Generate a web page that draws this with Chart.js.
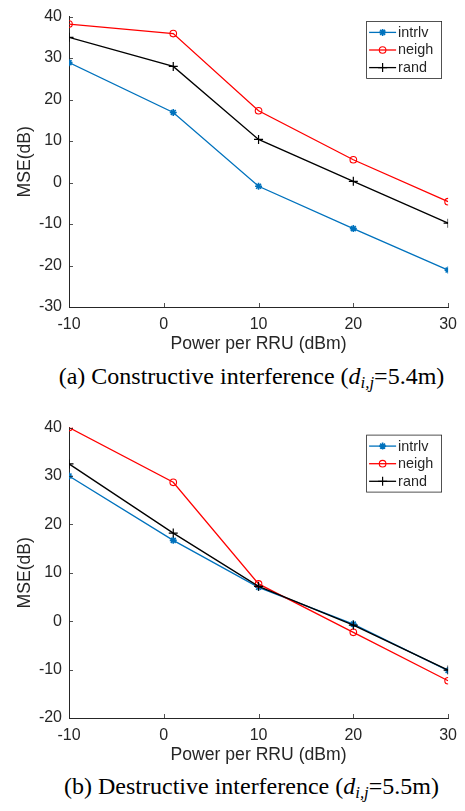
<!DOCTYPE html>
<html>
<head>
<meta charset="utf-8">
<script src="https://cdn.jsdelivr.net/npm/chart.js@4/dist/chart.umd.min.js"></script>
<style>
  html, body { margin: 0; padding: 0; background: #fff; overflow: hidden; }
  body { width: 465px; height: 811px; position: relative; }
  .box { position: absolute; left: 0; width: 465px; height: 360px; }
  .cap { position: absolute; left: 38px; width: 427px; text-align: center; white-space: nowrap;
         font-family: "Liberation Serif", "Times New Roman", serif; font-size: 24px; line-height: 24px; color: #000; }
  .cap sub { font-size: 70%; vertical-align: -4px; line-height: 0; }
</style>
</head>
<body>
<div class="box" style="top:0"><canvas id="chartA"></canvas></div>
<div class="cap" style="top:364px">(a) Constructive interference (<i>d</i><sub><i>i,j</i></sub>=5.4m)</div>
<div class="box" style="top:411px"><canvas id="chartB"></canvas></div>
<div class="cap" style="top:774px">(b) Destructive interference (<i>d</i><sub><i>i,j</i></sub>=5.5m)</div>
<script>
// x values: power per RRU (dBm)
const powerVals = [-10, 1, 10, 20, 30];
const seriesNames = ['intrlv', 'neigh', 'rand'];

// (a) constructive interference
const intrlvA = [28.9, 16.9, -0.9, -11.1, -21.1];
const neighA = [38.2, 35.9, 17.3, 5.5, -4.6];
const randA = [35.0, 28.0, 10.4, 0.3, -9.8];

// (b) destructive interference
const intrlvB = [30.0, 16.7, 7.0, -0.6, -10.2];
const neighB = [40.0, 28.7, 7.7, -2.3, -12.3];
const randB = [32.5, 18.2, 7.2, -0.8, -10.1];

const axisColor = '#262626';
const sansFont = '"Liberation Sans", Arial, sans-serif';

const styles = [
  { color: '#0072BD', pointStyle: 'star', radius: 3.5, pw: 1.6, order: 2 },
  { color: '#FF0000', pointStyle: 'circle', radius: 3.3, pw: 1.1, order: 1 },
  { color: '#000000', pointStyle: 'cross', radius: 4.5, pw: 1.2, order: 0 }
];

function toPoints(ys) {
  return ys.map((y, i) => ({ x: powerVals[i], y: y }));
}

// inward tick marks like MATLAB
const innerTicks = {
  id: 'innerTicks',
  afterDatasetsDraw(chart) {
    const ctx = chart.ctx;
    const { x, y } = chart.scales;
    const area = chart.chartArea;
    ctx.save();
    ctx.strokeStyle = axisColor;
    ctx.lineWidth = 0.8;
    ctx.beginPath();
    x.ticks.forEach(t => {
      const px = Math.round(x.getPixelForValue(t.value)) + 0.5;
      ctx.moveTo(px, area.bottom);
      ctx.lineTo(px, area.bottom - 4);
    });
    y.ticks.forEach(t => {
      const py = Math.round(y.getPixelForValue(t.value)) + 0.5;
      ctx.moveTo(area.left, py);
      ctx.lineTo(area.left + 4, py);
    });
    ctx.stroke();
    ctx.restore();
  }
};

// legend box inside the plot, top right
const boxLegend = {
  id: 'boxLegend',
  afterDraw(chart, args, opts) {
    const ctx = chart.ctx;
    const area = chart.chartArea;
    const right = area.right - 7;
    const left = right - 75;
    const top = area.top + opts.top;
    const rowH = 17.6;
    ctx.save();
    ctx.fillStyle = '#fff';
    ctx.fillRect(left, top, 75, 57);
    ctx.strokeStyle = axisColor;
    ctx.lineWidth = 0.8;
    ctx.strokeRect(left + 0.5, top + 0.5, 75, 57);
    chart.data.datasets.forEach((ds, i) => {
      const yy = top + 11.5 + i * rowH;
      ctx.strokeStyle = ds.borderColor;
      ctx.lineWidth = 1.3;
      ctx.beginPath();
      ctx.moveTo(left + 3, yy);
      ctx.lineTo(left + 30, yy);
      ctx.stroke();
      ctx.fillStyle = ds.pointBackgroundColor;
      ctx.strokeStyle = ds.pointBorderColor;
      ctx.lineWidth = ds.pointBorderWidth;
      Chart.helpers.drawPoint(ctx, {
        pointStyle: ds.pointStyle,
        radius: ds.pointRadius,
        borderWidth: ds.pointBorderWidth,
        rotation: 0
      }, left + 16.5, yy);
      ctx.fillStyle = axisColor;
      ctx.font = '14.4px ' + sansFont;
      ctx.textBaseline = 'middle';
      ctx.textAlign = 'left';
      ctx.fillText(ds.label, left + 32, yy + 0.5);
    });
    ctx.restore();
  }
};

function makeChart(id, seriesList, yMin, yMax, legendTop) {
  const datasets = seriesList.map((ys, i) => {
    const s = styles[i];
    return {
      label: seriesNames[i],
      data: toPoints(ys),
      borderColor: s.color,
      backgroundColor: s.pointStyle === 'star' ? s.color : 'rgba(0,0,0,0)',
      pointBorderColor: s.color,
      pointBackgroundColor: s.pointStyle === 'star' ? s.color : 'rgba(0,0,0,0)',
      borderWidth: 1.3,
      pointStyle: s.pointStyle,
      pointRadius: s.radius,
      pointBorderWidth: s.pw,
      order: s.order,
      tension: 0
    };
  });
  return new Chart(document.getElementById(id), {
    type: 'line',
    data: { datasets },
    options: {
      responsive: true,
      maintainAspectRatio: false,
      animation: false,
      events: [],
      layout: { padding: { top: 12, right: 10, left: 0, bottom: 0 } },
      plugins: {
        legend: { display: false },
        tooltip: { enabled: false },
        boxLegend: { top: legendTop }
      },
      scales: {
        x: {
          type: 'linear',
          min: -10, max: 30,
          grid: { display: false, drawTicks: false },
          border: { display: true, color: axisColor, width: 1 },
          ticks: { stepSize: 10, padding: 8, color: axisColor, font: { family: sansFont, size: 16 } },
          title: { display: true, text: 'Power per RRU (dBm)', color: axisColor,
                   font: { family: sansFont, size: 17.6 }, padding: { top: 0, bottom: 5 } },
          afterFit(scale) { scale.height = 53; }
        },
        y: {
          min: yMin, max: yMax,
          grid: { display: false, drawTicks: false },
          border: { display: true, color: axisColor, width: 1 },
          ticks: { stepSize: 10, padding: 7, color: axisColor, font: { family: sansFont, size: 16 } },
          title: { display: true, text: 'MSE(dB)', color: axisColor,
                   font: { family: sansFont, size: 17.6 }, padding: { top: 14.4, bottom: 0 } },
          afterFit(scale) { scale.width = 69; }
        }
      }
    },
    plugins: [innerTicks, boxLegend]
  });
}

// nudge layout padding until the plot area sits where the figure has it
function placeArea(chart, top, right) {
  for (let k = 0; k < 3; k++) {
    const a = chart.chartArea;
    const p = chart.options.layout.padding;
    p.right += a.right - right;
    p.top += top - a.top;
    chart.update();
  }
}

const chartA = makeChart('chartA', [intrlvA, neighA, randA], -30, 40, 4.3);
const chartB = makeChart('chartB', [intrlvB, neighB, randB], -20, 40, 7);
placeArea(chartA, 12, 451);
placeArea(chartB, 12.3, 451);
</script>
</body>
</html>
